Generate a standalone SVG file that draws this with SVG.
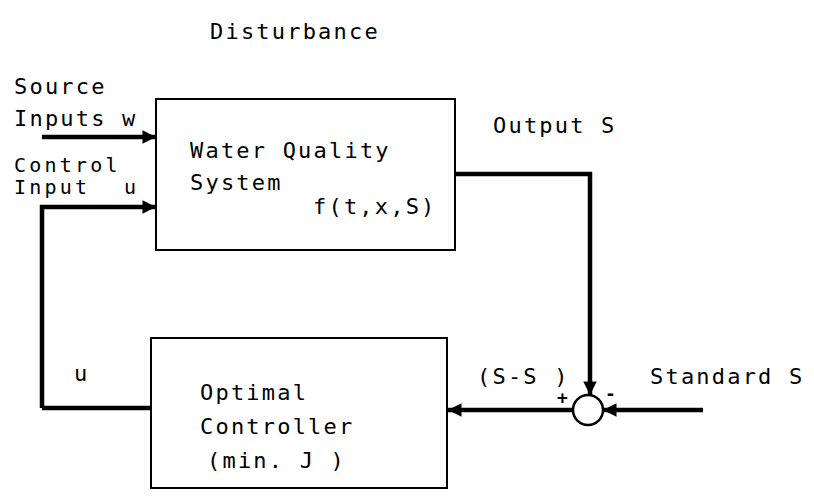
<svg xmlns="http://www.w3.org/2000/svg" width="814" height="497" viewBox="0 0 814 497">
<style>
text{font-family:"DejaVu Sans Mono","Liberation Mono",monospace;font-size:22px;letter-spacing:2.2px;fill:#000}
text.sm{font-size:20px;letter-spacing:3.2px}
.box{fill:none;stroke:#000;stroke-width:2}
.thick{fill:none;stroke:#000;stroke-width:4.5;stroke-linejoin:miter}
</style>
<defs>
<marker id="ah" viewBox="0 0 10 10" refX="10" refY="5" markerWidth="6.5" markerHeight="3" orient="auto" markerUnits="strokeWidth">
<path d="M0,0 L10,5 L0,10 z" fill="#000"/>
</marker>
</defs>
<rect width="814" height="497" fill="#fff"/>
<text x="210" y="39">Disturbance</text>
<g id="labels">
<text x="14" y="94">Source</text>
<text x="14" y="126">Inputs w</text>
<text class="sm" x="14" y="172">Control</text>
<text class="sm" x="14" y="194">Input<tspan x="124">u</tspan></text>
<text x="493" y="133">Output S</text>
<text x="74" y="381">u</text>
<text x="477" y="384">(S-S )</text>
<text x="650" y="384">Standard S</text>
<text x="557" y="404" style="font-size:18px;font-weight:bold">+</text>
<text x="605" y="400" style="font-size:18px;font-weight:bold">-</text>
</g>
<g id="water-quality-system">
<rect class="box" x="156" y="99" width="299" height="151"/>
<text x="190" y="158">Water Quality</text>
<text x="190" y="190">System</text>
<text x="313" y="214">f(t,x,S)</text>
</g>
<g id="optimal-controller">
<rect class="box" x="151" y="338" width="296" height="150"/>
<text x="200" y="400">Optimal</text>
<text x="200" y="434">Controller</text>
<text x="207" y="468">(min. J )</text>
</g>
<g id="summing-junction">
<circle cx="588" cy="410" r="15" fill="#fff" stroke="#000" stroke-width="2.5"/>
</g>
<g id="connectors">
<line class="thick" x1="42" y1="137" x2="156" y2="137" marker-end="url(#ah)"/>
<polyline class="thick" points="42,408 42,207 156,207" marker-end="url(#ah)"/>
<polyline class="thick" points="42,408 151,408"/>
<polyline class="thick" points="455,174 590,174 590,395" marker-end="url(#ah)"/>
<line class="thick" x1="573" y1="410" x2="448" y2="410" marker-end="url(#ah)"/>
<line class="thick" x1="703" y1="410" x2="603" y2="410" marker-end="url(#ah)"/>
</g>
</svg>
